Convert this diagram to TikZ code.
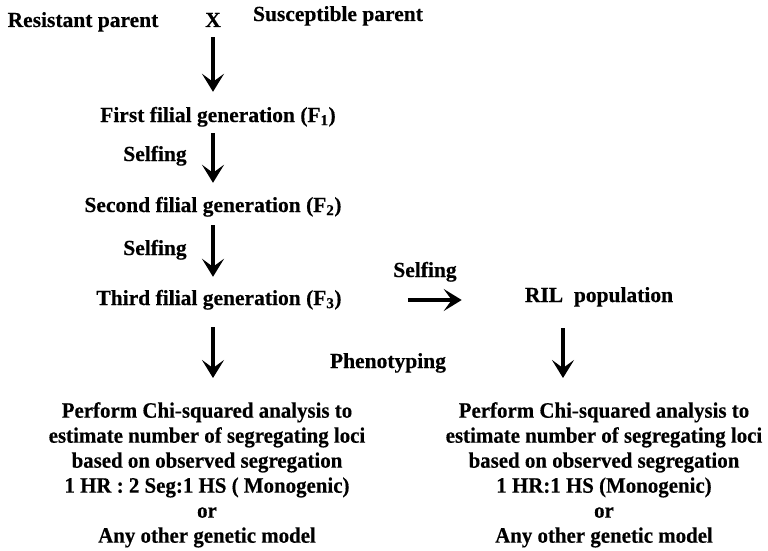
\documentclass[tikz,border=0pt]{standalone}
\usepackage{fontspec}
\setmainfont{Liberation Serif}[BoldFeatures={FakeBold=0.4}]
\newfontfamily\condfont{Liberation Serif}[FakeStretch=0.95,BoldFeatures={FakeBold=0.4}]
\usetikzlibrary{arrows.meta}
\begin{document}
\begin{tikzpicture}[x=1pt,y=-1pt,
  lbl/.style={anchor=base,inner sep=0pt,text height=15pt,text depth=5pt,
    font=\fontsize{21.5}{25}\selectfont\bfseries},
  block/.style={anchor=north,inner sep=0pt,align=center,
    font=\condfont\fontsize{22}{25}\selectfont\bfseries},
  arr/.style={line width=3.5pt,-{Stealth[length=18pt,width=22pt,inset=8pt]}}]
\useasboundingbox (0,0) rectangle (768,551);

% parents and the cross
\node[lbl] (rp) at (83,27) {Resistant parent};
\node[lbl] (cross) at (213,27) {X};
\node[lbl] (sp) at (338,21) {Susceptible parent};

% filial generations
\node[lbl] (f1) at (218,122) {First filial generation (F\textsubscript{1})};
\node[lbl] (s1) at (155,161) {Selfing};
\node[lbl] (f2) at (213,212) {Second filial generation (F\textsubscript{2})};
\node[lbl] (s2) at (155,255) {Selfing};
\node[lbl] (f3) at (219,305) {Third filial generation (F\textsubscript{3})};

% RIL branch
\node[lbl] (s3) at (425,277) {Selfing};
\node[lbl] (ril) at (599,302) {RIL~~population};
\node[lbl] (pheno) at (388,368) {Phenotyping};

% analysis blocks
\node[block] (chiL) at (207,402) {Perform Chi-squared analysis to\\
  estimate number of segregating loci\\
  based on observed segregation\\
  1 HR : 2 Seg:1 HS ( Monogenic)\\
  or\\
  Any other genetic model};
\node[block] (chiR) at (604,402) {Perform Chi-squared analysis to\\
  estimate number of segregating loci\\
  based on observed segregation\\
  1 HR:1 HS (Monogenic)\\
  or\\
  Any other genetic model};

% arrows
\draw[arr,shorten <=5pt,shorten >=15pt] (cross.south) -- (cross.south |- f1.north);
\draw[arr,shorten <=6pt,shorten >=14pt] (cross.south |- f1.south) -- (cross.south |- f2.north);
\draw[arr,shorten <=8pt,shorten >=13pt] (cross.south |- f2.south) -- (cross.south |- f3.north);
\draw[arr,shorten <=17pt,shorten >=24pt] (cross.south |- f3.south) -- (cross.south |- chiL.north);
\draw[arr,line width=4pt,shorten <=66pt,shorten >=63pt] (f3.east) -- (ril.west |- f3.east);
\draw[arr,shorten <=21pt,shorten >=24pt] ([xshift=-36pt]ril.south) -- ([xshift=-36pt]ril.south |- chiR.north);
\end{tikzpicture}
\end{document}
